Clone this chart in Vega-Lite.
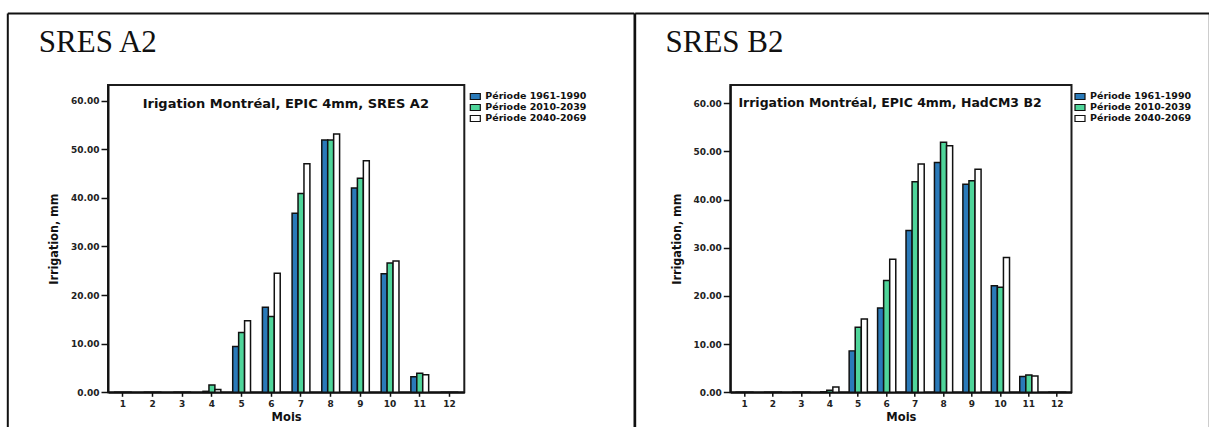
{
  "$schema": "https://vega.github.io/schema/vega-lite/v6.json",
  "background": "white",
  "padding": {"left": 5, "top": 12, "right": 0, "bottom": 0},
  "spacing": 265.3,
  "bounds": "flush",
  "config": {
    "view": {"stroke": "#1c1c1c", "strokeWidth": 2},
    "axis": {
      "grid": false,
      "domainColor": "#111111",
      "domainWidth": 2,
      "tickColor": "#111111",
      "tickWidth": 1.5,
      "labelFont": "DejaVu Sans",
      "labelFontWeight": "bold",
      "labelFontSize": 9,
      "labelColor": "#222222",
      "titleFont": "DejaVu Sans",
      "titleFontWeight": "bold",
      "titleColor": "#111111"
    },
    "legend": {
      "title": null,
      "orient": "none",
      "padding": 0,
      "symbolType": "M-1.25,-0.75H1.25V0.75H-1.25Z",
      "symbolSize": 64,
      "symbolStrokeColor": "#111111",
      "symbolStrokeWidth": 1.2,
      "symbolOpacity": 1,
      "labelFont": "DejaVu Sans",
      "labelFontWeight": "bold",
      "labelFontSize": 9.5,
      "labelColor": "#111111",
      "labelOffset": 5,
      "rowPadding": -6.5
    }
  },
  "datasets": {
    "a2": [
      {"mois": 1, "periode": "Période 1961-1990", "irrigation": 0},
      {"mois": 1, "periode": "Période 2010-2039", "irrigation": 0},
      {"mois": 1, "periode": "Période 2040-2069", "irrigation": 0},
      {"mois": 2, "periode": "Période 1961-1990", "irrigation": 0},
      {"mois": 2, "periode": "Période 2010-2039", "irrigation": 0},
      {"mois": 2, "periode": "Période 2040-2069", "irrigation": 0},
      {"mois": 3, "periode": "Période 1961-1990", "irrigation": 0},
      {"mois": 3, "periode": "Période 2010-2039", "irrigation": 0},
      {"mois": 3, "periode": "Période 2040-2069", "irrigation": 0},
      {"mois": 4, "periode": "Période 1961-1990", "irrigation": 0.2},
      {"mois": 4, "periode": "Période 2010-2039", "irrigation": 1.5},
      {"mois": 4, "periode": "Période 2040-2069", "irrigation": 0.6},
      {"mois": 5, "periode": "Période 1961-1990", "irrigation": 9.4},
      {"mois": 5, "periode": "Période 2010-2039", "irrigation": 12.3},
      {"mois": 5, "periode": "Période 2040-2069", "irrigation": 14.7},
      {"mois": 6, "periode": "Période 1961-1990", "irrigation": 17.5},
      {"mois": 6, "periode": "Période 2010-2039", "irrigation": 15.6},
      {"mois": 6, "periode": "Période 2040-2069", "irrigation": 24.5},
      {"mois": 7, "periode": "Période 1961-1990", "irrigation": 36.8},
      {"mois": 7, "periode": "Période 2010-2039", "irrigation": 40.9},
      {"mois": 7, "periode": "Période 2040-2069", "irrigation": 47.0},
      {"mois": 8, "periode": "Période 1961-1990", "irrigation": 51.9},
      {"mois": 8, "periode": "Période 2010-2039", "irrigation": 51.9},
      {"mois": 8, "periode": "Période 2040-2069", "irrigation": 53.1},
      {"mois": 9, "periode": "Période 1961-1990", "irrigation": 42.0},
      {"mois": 9, "periode": "Période 2010-2039", "irrigation": 44.0},
      {"mois": 9, "periode": "Période 2040-2069", "irrigation": 47.6},
      {"mois": 10, "periode": "Période 1961-1990", "irrigation": 24.4},
      {"mois": 10, "periode": "Période 2010-2039", "irrigation": 26.6},
      {"mois": 10, "periode": "Période 2040-2069", "irrigation": 27.0},
      {"mois": 11, "periode": "Période 1961-1990", "irrigation": 3.2},
      {"mois": 11, "periode": "Période 2010-2039", "irrigation": 3.9},
      {"mois": 11, "periode": "Période 2040-2069", "irrigation": 3.6},
      {"mois": 12, "periode": "Période 1961-1990", "irrigation": 0},
      {"mois": 12, "periode": "Période 2010-2039", "irrigation": 0},
      {"mois": 12, "periode": "Période 2040-2069", "irrigation": 0}
    ],
    "b2": [
      {"mois": 1, "periode": "Période 1961-1990", "irrigation": 0},
      {"mois": 1, "periode": "Période 2010-2039", "irrigation": 0},
      {"mois": 1, "periode": "Période 2040-2069", "irrigation": 0},
      {"mois": 2, "periode": "Période 1961-1990", "irrigation": 0},
      {"mois": 2, "periode": "Période 2010-2039", "irrigation": 0},
      {"mois": 2, "periode": "Période 2040-2069", "irrigation": 0},
      {"mois": 3, "periode": "Période 1961-1990", "irrigation": 0},
      {"mois": 3, "periode": "Période 2010-2039", "irrigation": 0},
      {"mois": 3, "periode": "Période 2040-2069", "irrigation": 0},
      {"mois": 4, "periode": "Période 1961-1990", "irrigation": 0.1},
      {"mois": 4, "periode": "Période 2010-2039", "irrigation": 0.4},
      {"mois": 4, "periode": "Période 2040-2069", "irrigation": 1.1},
      {"mois": 5, "periode": "Période 1961-1990", "irrigation": 8.6},
      {"mois": 5, "periode": "Période 2010-2039", "irrigation": 13.5},
      {"mois": 5, "periode": "Période 2040-2069", "irrigation": 15.2},
      {"mois": 6, "periode": "Période 1961-1990", "irrigation": 17.5},
      {"mois": 6, "periode": "Période 2010-2039", "irrigation": 23.2},
      {"mois": 6, "periode": "Période 2040-2069", "irrigation": 27.6},
      {"mois": 7, "periode": "Période 1961-1990", "irrigation": 33.6},
      {"mois": 7, "periode": "Période 2010-2039", "irrigation": 43.7},
      {"mois": 7, "periode": "Période 2040-2069", "irrigation": 47.4},
      {"mois": 8, "periode": "Période 1961-1990", "irrigation": 47.7},
      {"mois": 8, "periode": "Période 2010-2039", "irrigation": 51.9},
      {"mois": 8, "periode": "Période 2040-2069", "irrigation": 51.2},
      {"mois": 9, "periode": "Période 1961-1990", "irrigation": 43.2},
      {"mois": 9, "periode": "Période 2010-2039", "irrigation": 43.9},
      {"mois": 9, "periode": "Période 2040-2069", "irrigation": 46.3},
      {"mois": 10, "periode": "Période 1961-1990", "irrigation": 22.1},
      {"mois": 10, "periode": "Période 2010-2039", "irrigation": 21.8},
      {"mois": 10, "periode": "Période 2040-2069", "irrigation": 28.0},
      {"mois": 11, "periode": "Période 1961-1990", "irrigation": 3.3},
      {"mois": 11, "periode": "Période 2010-2039", "irrigation": 3.6},
      {"mois": 11, "periode": "Période 2040-2069", "irrigation": 3.4},
      {"mois": 12, "periode": "Période 1961-1990", "irrigation": 0},
      {"mois": 12, "periode": "Période 2010-2039", "irrigation": 0},
      {"mois": 12, "periode": "Période 2040-2069", "irrigation": 0}
    ]
  },
  "resolve": {
    "scale": {"x": "independent", "y": "independent", "xOffset": "independent", "color": "independent"},
    "legend": {"color": "independent"}
  },
  "hconcat": [
    {
      "width": 356.3,
      "height": 307.3,
      "layer": [
        {
          "data": {"name": "a2"},
          "mark": {"type": "bar", "stroke": "#111111", "strokeWidth": 1.5},
          "encoding": {
            "x": {
              "field": "mois", "type": "ordinal",
              "scale": {"paddingInner": 0.4, "paddingOuter": 0.2},
              "axis": {"labelAngle": 0, "tickSize": 4, "labelPadding": 3, "title": "Mois", "titleFontSize": 11.5, "titlePadding": 3}
            },
            "xOffset": {"field": "periode", "type": "nominal", "sort": ["Période 1961-1990", "Période 2010-2039", "Période 2040-2069"]},
            "y": {
              "field": "irrigation", "type": "quantitative",
              "scale": {"domain": [0, 63.2], "nice": false},
              "axis": {"values": [0, 10, 20, 30, 40, 50, 60], "format": ".2f", "tickSize": 7, "labelPadding": 2, "title": "Irrigation, mm", "titleFont": "Liberation Sans Narrow, DejaVu Sans Condensed, Liberation Sans", "titleFontSize": 12.5, "titlePadding": 10.5}
            },
            "color": {
              "field": "periode", "type": "nominal",
              "scale": {"domain": ["Période 1961-1990", "Période 2010-2039", "Période 2040-2069"], "range": ["#2a7ab9", "#4fd59a", "#ffffff"]},
              "legend": {"legendX": 362.3, "legendY": 6.5}
            }
          }
        },
        {
          "data": {"values": [{"cadre": 0}]},
          "mark": {"type": "point", "opacity": 0, "size": 1},
          "encoding": {
            "x": {
              "datum": 0, "type": "quantitative",
              "scale": {"domain": [0, 1], "range": [-100.7, 525.9]},
              "axis": {"orient": "top", "offset": 72, "ticks": false, "labels": false, "title": "SRES A2", "titleFont": "Liberation Serif", "titleFontSize": 31, "titleFontWeight": "normal", "titleAlign": "left", "titleBaseline": "alphabetic", "titleX": -69.7, "titleY": 39}
            },
            "y": {
              "datum": 0, "type": "quantitative",
              "scale": {"domain": [0, 1], "range": [360, -72]},
              "axis": {"orient": "left", "offset": 100.7, "ticks": false, "labels": false, "title": null}
            }
          }
        },
        {
          "data": {"values": [{"cadre": 0}]},
          "mark": {"type": "point", "opacity": 0, "size": 1},
          "encoding": {
            "x": {
              "datum": 0, "type": "quantitative",
              "scale": {"domain": [0, 1]},
              "axis": {"orient": "top", "offset": 0, "domain": false, "ticks": false, "labels": false, "title": "Irigation Montréal, EPIC 4mm, SRES A2", "titleFontSize": 13, "titleX": 177.3, "titleY": 19, "titleAlign": "center", "titleBaseline": "middle"}
            },
            "y": {
              "datum": 0, "type": "quantitative",
              "scale": {"domain": [0, 1], "range": [360, -72]},
              "axis": {"orient": "right", "offset": 169.7, "ticks": false, "labels": false, "title": null}
            }
          }
        }
      ],
      "resolve": {"scale": {"x": "independent", "y": "independent"}}
    },
    {
      "width": 341.2,
      "height": 307.3,
      "layer": [
        {
          "data": {"name": "b2"},
          "mark": {"type": "bar", "stroke": "#111111", "strokeWidth": 1.5},
          "encoding": {
            "x": {
              "field": "mois", "type": "ordinal",
              "scale": {"paddingInner": 0.36, "paddingOuter": 0.18},
              "axis": {"labelAngle": 0, "tickSize": 4, "labelPadding": 3, "title": "Mois", "titleFontSize": 11.5, "titlePadding": 3}
            },
            "xOffset": {"field": "periode", "type": "nominal", "sort": ["Période 1961-1990", "Période 2010-2039", "Période 2040-2069"]},
            "y": {
              "field": "irrigation", "type": "quantitative",
              "scale": {"domain": [0, 63.8], "nice": false},
              "axis": {"values": [0, 10, 20, 30, 40, 50, 60], "format": ".2f", "tickSize": 7, "labelPadding": 2, "title": "Irrigation, mm", "titleFont": "Liberation Sans Narrow, DejaVu Sans Condensed, Liberation Sans", "titleFontSize": 12.5, "titlePadding": 9}
            },
            "color": {
              "field": "periode", "type": "nominal",
              "scale": {"domain": ["Période 1961-1990", "Période 2010-2039", "Période 2040-2069"], "range": ["#2a7ab9", "#4fd59a", "#ffffff"]},
              "legend": {"legendX": 344.7, "legendY": 6.5}
            }
          }
        },
        {
          "data": {"values": [{"cadre": 0}]},
          "mark": {"type": "point", "opacity": 0, "size": 1},
          "encoding": {
            "x": {
              "datum": 0, "type": "quantitative",
              "scale": {"domain": [0, 1], "range": [-95.6, 479]},
              "axis": {"orient": "top", "offset": 72, "ticks": false, "labels": false, "title": "SRES B2", "titleFont": "Liberation Serif", "titleFontSize": 31, "titleFontWeight": "normal", "titleAlign": "left", "titleBaseline": "alphabetic", "titleX": -65.3, "titleY": 39}
            },
            "y": {
              "datum": 0, "type": "quantitative",
              "scale": {"domain": [0, 1], "range": [360, -72]},
              "axis": {"orient": "left", "offset": 95.6, "ticks": false, "labels": false, "title": null}
            }
          }
        },
        {
          "data": {"values": [{"cadre": 0}]},
          "mark": {"type": "point", "opacity": 0, "size": 1},
          "encoding": {
            "x": {
              "datum": 0, "type": "quantitative",
              "scale": {"domain": [0, 1]},
              "axis": {"orient": "top", "offset": 0, "domain": false, "ticks": false, "labels": false, "title": "Irrigation Montréal, EPIC 4mm, HadCM3 B2", "titleFontSize": 12.5, "titleX": 159.2, "titleY": 18, "titleAlign": "center", "titleBaseline": "middle"}
            },
            "y": {
              "datum": 0, "type": "quantitative",
              "scale": {"domain": [0, 1], "range": [360, -72]},
              "axis": {"orient": "right", "offset": 137.8, "ticks": false, "labels": false, "title": null}
            }
          }
        }
      ],
      "resolve": {"scale": {"x": "independent", "y": "independent"}}
    }
  ]
}
